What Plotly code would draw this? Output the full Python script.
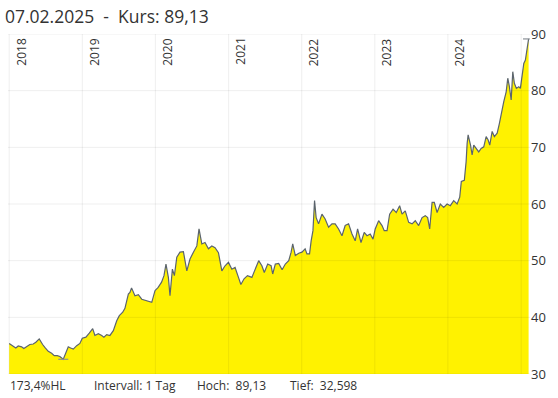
import plotly.graph_objects as go
import datetime as _dt

dates = [
    "2018-01-01", "2018-01-21", "2018-02-03", "2018-02-15", "2018-03-04", "2018-03-15", "2018-03-29",
    "2018-04-14", "2018-05-01", "2018-05-14", "2018-05-31", "2018-06-08", "2018-06-17", "2018-06-28",
    "2018-07-15", "2018-08-01", "2018-08-14", "2018-08-29", "2018-09-11", "2018-09-28", "2018-10-08",
    "2018-10-23", "2018-11-04", "2018-11-17", "2018-12-04", "2018-12-20", "2019-01-01", "2019-01-19",
    "2019-02-05", "2019-02-22", "2019-03-05", "2019-03-22", "2019-04-08", "2019-04-19", "2019-05-03",
    "2019-05-19", "2019-06-05", "2019-06-22", "2019-07-05", "2019-07-22", "2019-08-02", "2019-08-14",
    "2019-08-19", "2019-08-27", "2019-09-04", "2019-09-21", "2019-10-08", "2019-10-25", "2019-11-19",
    "2019-12-14", "2019-12-30", "2020-01-15", "2020-02-01", "2020-02-13", "2020-02-23", "2020-03-06",
    "2020-03-14", "2020-03-26", "2020-04-05", "2020-04-17", "2020-05-03", "2020-05-20", "2020-06-06",
    "2020-06-22", "2020-07-09", "2020-07-26", "2020-08-06", "2020-08-20", "2020-09-05", "2020-09-22",
    "2020-10-09", "2020-10-25", "2020-11-11", "2020-11-28", "2020-12-14", "2020-12-31", "2021-01-17",
    "2021-02-02", "2021-02-19", "2021-03-03", "2021-03-19", "2021-04-05", "2021-04-27", "2021-05-14",
    "2021-05-31", "2021-06-16", "2021-06-28", "2021-07-15", "2021-08-01", "2021-08-09", "2021-08-22",
    "2021-09-08", "2021-09-25", "2021-10-11", "2021-10-28", "2021-11-09", "2021-11-17", "2021-11-30",
    "2021-12-17", "2022-01-02", "2022-01-18", "2022-01-27", "2022-02-09", "2022-02-17", "2022-02-26",
    "2022-03-06", "2022-03-14", "2022-03-26", "2022-04-12", "2022-04-28", "2022-05-15", "2022-06-01",
    "2022-06-17", "2022-07-04", "2022-07-21", "2022-08-06", "2022-08-23", "2022-09-09", "2022-09-25",
    "2022-10-07", "2022-10-24", "2022-11-09", "2022-11-23", "2022-12-09", "2022-12-23", "2023-01-03",
    "2023-01-20", "2023-02-06", "2023-02-17", "2023-03-03", "2023-03-16", "2023-04-02", "2023-04-18",
    "2023-05-05", "2023-05-17", "2023-06-02", "2023-06-19", "2023-07-06", "2023-07-22", "2023-08-08",
    "2023-08-25", "2023-09-10", "2023-09-22", "2023-10-02", "2023-10-14", "2023-10-25", "2023-11-08",
    "2023-11-24", "2023-12-11", "2023-12-28", "2024-01-13", "2024-01-30", "2024-02-16", "2024-02-29",
    "2024-03-08", "2024-03-23", "2024-04-01", "2024-04-06", "2024-04-11", "2024-04-23", "2024-05-01",
    "2024-05-09", "2024-05-22", "2024-06-03", "2024-06-15", "2024-06-28", "2024-07-10", "2024-07-20",
    "2024-07-28", "2024-08-09", "2024-08-20", "2024-09-03", "2024-09-14", "2024-09-24", "2024-10-06",
    "2024-10-18", "2024-10-26", "2024-11-03", "2024-11-12", "2024-11-20", "2024-11-28", "2024-12-08",
    "2024-12-20", "2024-12-28", "2025-01-06", "2025-01-14", "2025-01-22", "2025-01-31", "2025-02-07",
]

prices = [
    35.4, 35.0, 34.6, 34.95, 34.8, 34.5, 34.8,
    35.2, 35.3, 35.6, 36.2, 35.6, 35.2, 34.7,
    34.0, 33.65, 33.25, 33.25, 33.1, 32.6, 33.5,
    34.8, 34.6, 34.4, 35.0, 35.4, 36.3, 36.5,
    37.2, 38.0, 36.8, 37.1, 36.8, 36.5, 36.95,
    36.8, 37.65, 39.4, 40.3, 40.9, 41.6, 43.2,
    44.1, 44.4, 45.2, 43.8, 44.0, 43.2, 42.9,
    42.65, 44.7, 45.3, 46.2, 47.35, 49.4, 47.05,
    43.8, 48.5, 47.35, 50.6, 51.5, 51.6, 48.2,
    50.3, 51.5, 52.6, 55.6, 52.95, 53.2, 52.1,
    52.6, 52.3, 51.4, 48.2, 49.1, 49.7, 48.5,
    48.8, 47.05, 45.8, 46.8, 47.35, 47.05, 48.5,
    50.0, 49.1, 47.9, 49.4, 49.1, 47.65, 49.4,
    49.5, 48.4, 49.4, 50.0, 51.5, 52.95, 50.9,
    51.3, 51.5, 52.1, 51.2, 51.2, 53.5, 55.3,
    60.6, 57.6, 56.5, 58.2, 57.35, 55.9, 56.5,
    56.5, 55.6, 54.4, 56.2, 56.5, 54.7, 53.5,
    55.6, 53.2, 55.0, 54.4, 54.7, 53.8, 55.6,
    57.05, 56.2, 55.3, 55.3, 58.2, 59.1, 58.5,
    59.7, 58.2, 58.8, 56.75, 56.5, 57.05, 56.2,
    57.6, 57.95, 57.6, 55.6, 60.3, 60.3, 58.5,
    60.0, 59.4, 60.0, 59.7, 60.6, 60.0, 61.2,
    64.0, 64.2, 67.5, 70.7, 72.2, 70.4, 68.65,
    70.4, 69.8, 69.2, 69.8, 70.1, 71.9, 71.3,
    70.4, 72.8, 71.9, 72.5, 74.2, 76.3, 78.05,
    79.8, 82.2, 80.7, 78.35, 83.35, 81.3, 80.4,
    80.7, 80.4, 83.1, 84.8, 85.4, 87.5, 89.13,
]

year_ticks = ["2018-01-01", "2019-01-01", "2020-01-01", "2021-01-01",
              "2022-01-01", "2023-01-01", "2024-01-01", "2025-01-01"]
year_labels = ["2018", "2019", "2020", "2021", "2022", "2023", "2024", ""]
y_ticks = [30, 40, 50, 60, 70, 80, 90]

title_date = "07.02.2025"
kurs = "89,13"
perf = "173,4%HL"
intervall = "1 Tag"
hoch = 89.13
hoch_date = "2025-02-07"
tief = 32.598
tief_date = "2018-09-28"

fig = go.Figure()
fig.add_trace(go.Scatter(
    x=dates, y=prices, mode="lines",
    line=dict(color="#5b646e", width=1.2),
    fill="tozeroy", fillcolor="#fff200",
    hoverinfo="skip",
))

grid_col = "rgba(0,0,0,0.065)"
shapes = []
for t in year_ticks:
    shapes.append(dict(type="line", xref="x", yref="paper", x0=t, x1=t, y0=0, y1=1,
                       line=dict(color=grid_col, width=1), layer="above"))
for v in y_ticks:
    shapes.append(dict(type="line", xref="paper", yref="y", x0=0, x1=1, y0=v, y1=v,
                       line=dict(color=grid_col, width=1), layer="above"))


def _shift(d, days):
    return (_dt.date.fromisoformat(d) + _dt.timedelta(days=days)).isoformat()


shapes.append(dict(type="line", xref="x", yref="y", x0=_shift(hoch_date, -28), x1=_shift(hoch_date, 6),
                   y0=hoch, y1=hoch, line=dict(color="#8a9097", width=1.2), layer="above"))
shapes.append(dict(type="line", xref="x", yref="y", x0=_shift(tief_date, -25), x1=_shift(tief_date, 25),
                   y0=tief, y1=tief, line=dict(color="#8a9097", width=1.2), layer="above"))

annotations = []
for t, lab in zip(year_ticks, year_labels):
    if lab:
        annotations.append(dict(x=t, y=1, xref="x", yref="paper", text=lab, textangle=-90,
                                showarrow=False, xanchor="left", yanchor="top",
                                xshift=1, yshift=-2,
                                font=dict(family="Open Sans", size=12, color="#333")))
annotations.append(dict(x=0, y=1, xref="paper", yref="paper", yshift=18, xshift=-5,
                        text=f"{title_date}  -  Kurs: {kurs}", showarrow=False,
                        xanchor="left", yanchor="middle",
                        font=dict(family="Open Sans", size=17.5, color="#333")))
hoch_s = f"{hoch:.2f}".replace(".", ",")
tief_s = f"{tief:.3f}".replace(".", ",")
bottom = [(0, perf), (84, f"Intervall: {intervall}"), (187, f"Hoch:  {hoch_s}"), (280, f"Tief:  {tief_s}")]
for px, txt in bottom:
    annotations.append(dict(x=0, y=0, xref="paper", yref="paper", xshift=px, yshift=-11,
                            text=txt, showarrow=False, xanchor="left", yanchor="middle",
                            font=dict(family="Open Sans", size=12, color="#333")))

fig.update_layout(
    width=558, height=398,
    margin=dict(l=8, r=28, t=34, b=24),
    paper_bgcolor="white", plot_bgcolor="white",
    showlegend=False,
    shapes=shapes, annotations=annotations,
    xaxis=dict(type="date", range=["2017-12-26", "2025-02-14"], showgrid=False,
               showticklabels=False, zeroline=False, showline=False, ticks=""),
    yaxis=dict(range=[30, 90], side="right", tickvals=y_ticks, ticktext=[str(v) for v in y_ticks],
               showgrid=False, zeroline=False, showline=False, ticks="",
               tickfont=dict(family="Open Sans", size=13, color="#333")),
)

fig.write_html("out.html")
